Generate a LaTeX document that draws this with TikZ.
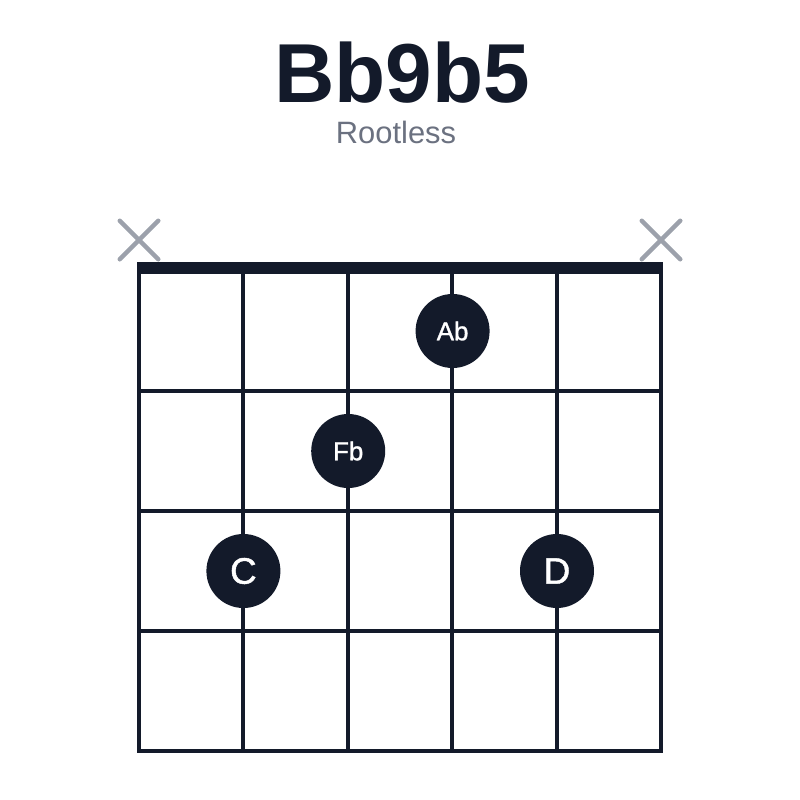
\documentclass[tikz,border=0pt]{standalone}
\usepackage{fontspec}
\setmainfont{Liberation Sans}
\newfontfamily\medfont[FakeBold=1.2]{Liberation Sans}
\usetikzlibrary{shapes.misc}
\definecolor{ink}{HTML}{131A2A}
\definecolor{mutegray}{HTML}{9CA1AB}
\definecolor{subgray}{HTML}{6B7180}

\begin{document}
\begin{tikzpicture}
[x=1bp,y=-1bp,
every node/.style={inner sep=0pt},
fingerdot/.style={shape=circle,fill=ink,minimum size=74bp,text=white},
small/.style={font=\medfont\fontsize{26}{26}\selectfont},
big/.style={font=\medfont\fontsize{37}{37}\selectfont},
mute/.style={shape=cross out,draw=mutegray,line width=4.5bp,line cap=round,minimum size=34bp}]

\useasboundingbox (0,0) rectangle (800,800);

\node[anchor=base,font=\fontsize{84}{84}\selectfont\bfseries,text=ink] (title) at (402,102) {Bb9b5};
\node[anchor=base,font=\fontsize{31}{31}\selectfont,text=subgray] (sub) at (396,143) {Rootless};

\fill[ink] (137,262) rectangle (663,274);
\foreach \s in {0,...,5}
	\draw[ink,line width=4bp] (139+104.4*\s,271) -- (139+104.4*\s,753);
\foreach \f in {1,...,4}
	\draw[ink,line width=4bp] (137,271+120*\f) -- (663,271+120*\f);

\node[mute] (x1) at (139,240) {};
\node[mute] (x6) at (661,240) {};

\node[fingerdot,small] (ab) at (452.6,331) {Ab};
\node[fingerdot,small] (fb) at (348.2,451) {Fb};
\node[fingerdot,big] (c) at (243.4,571) {C};
\node[fingerdot,big] (d) at (557,571) {D};
\end{tikzpicture}
\end{document}
